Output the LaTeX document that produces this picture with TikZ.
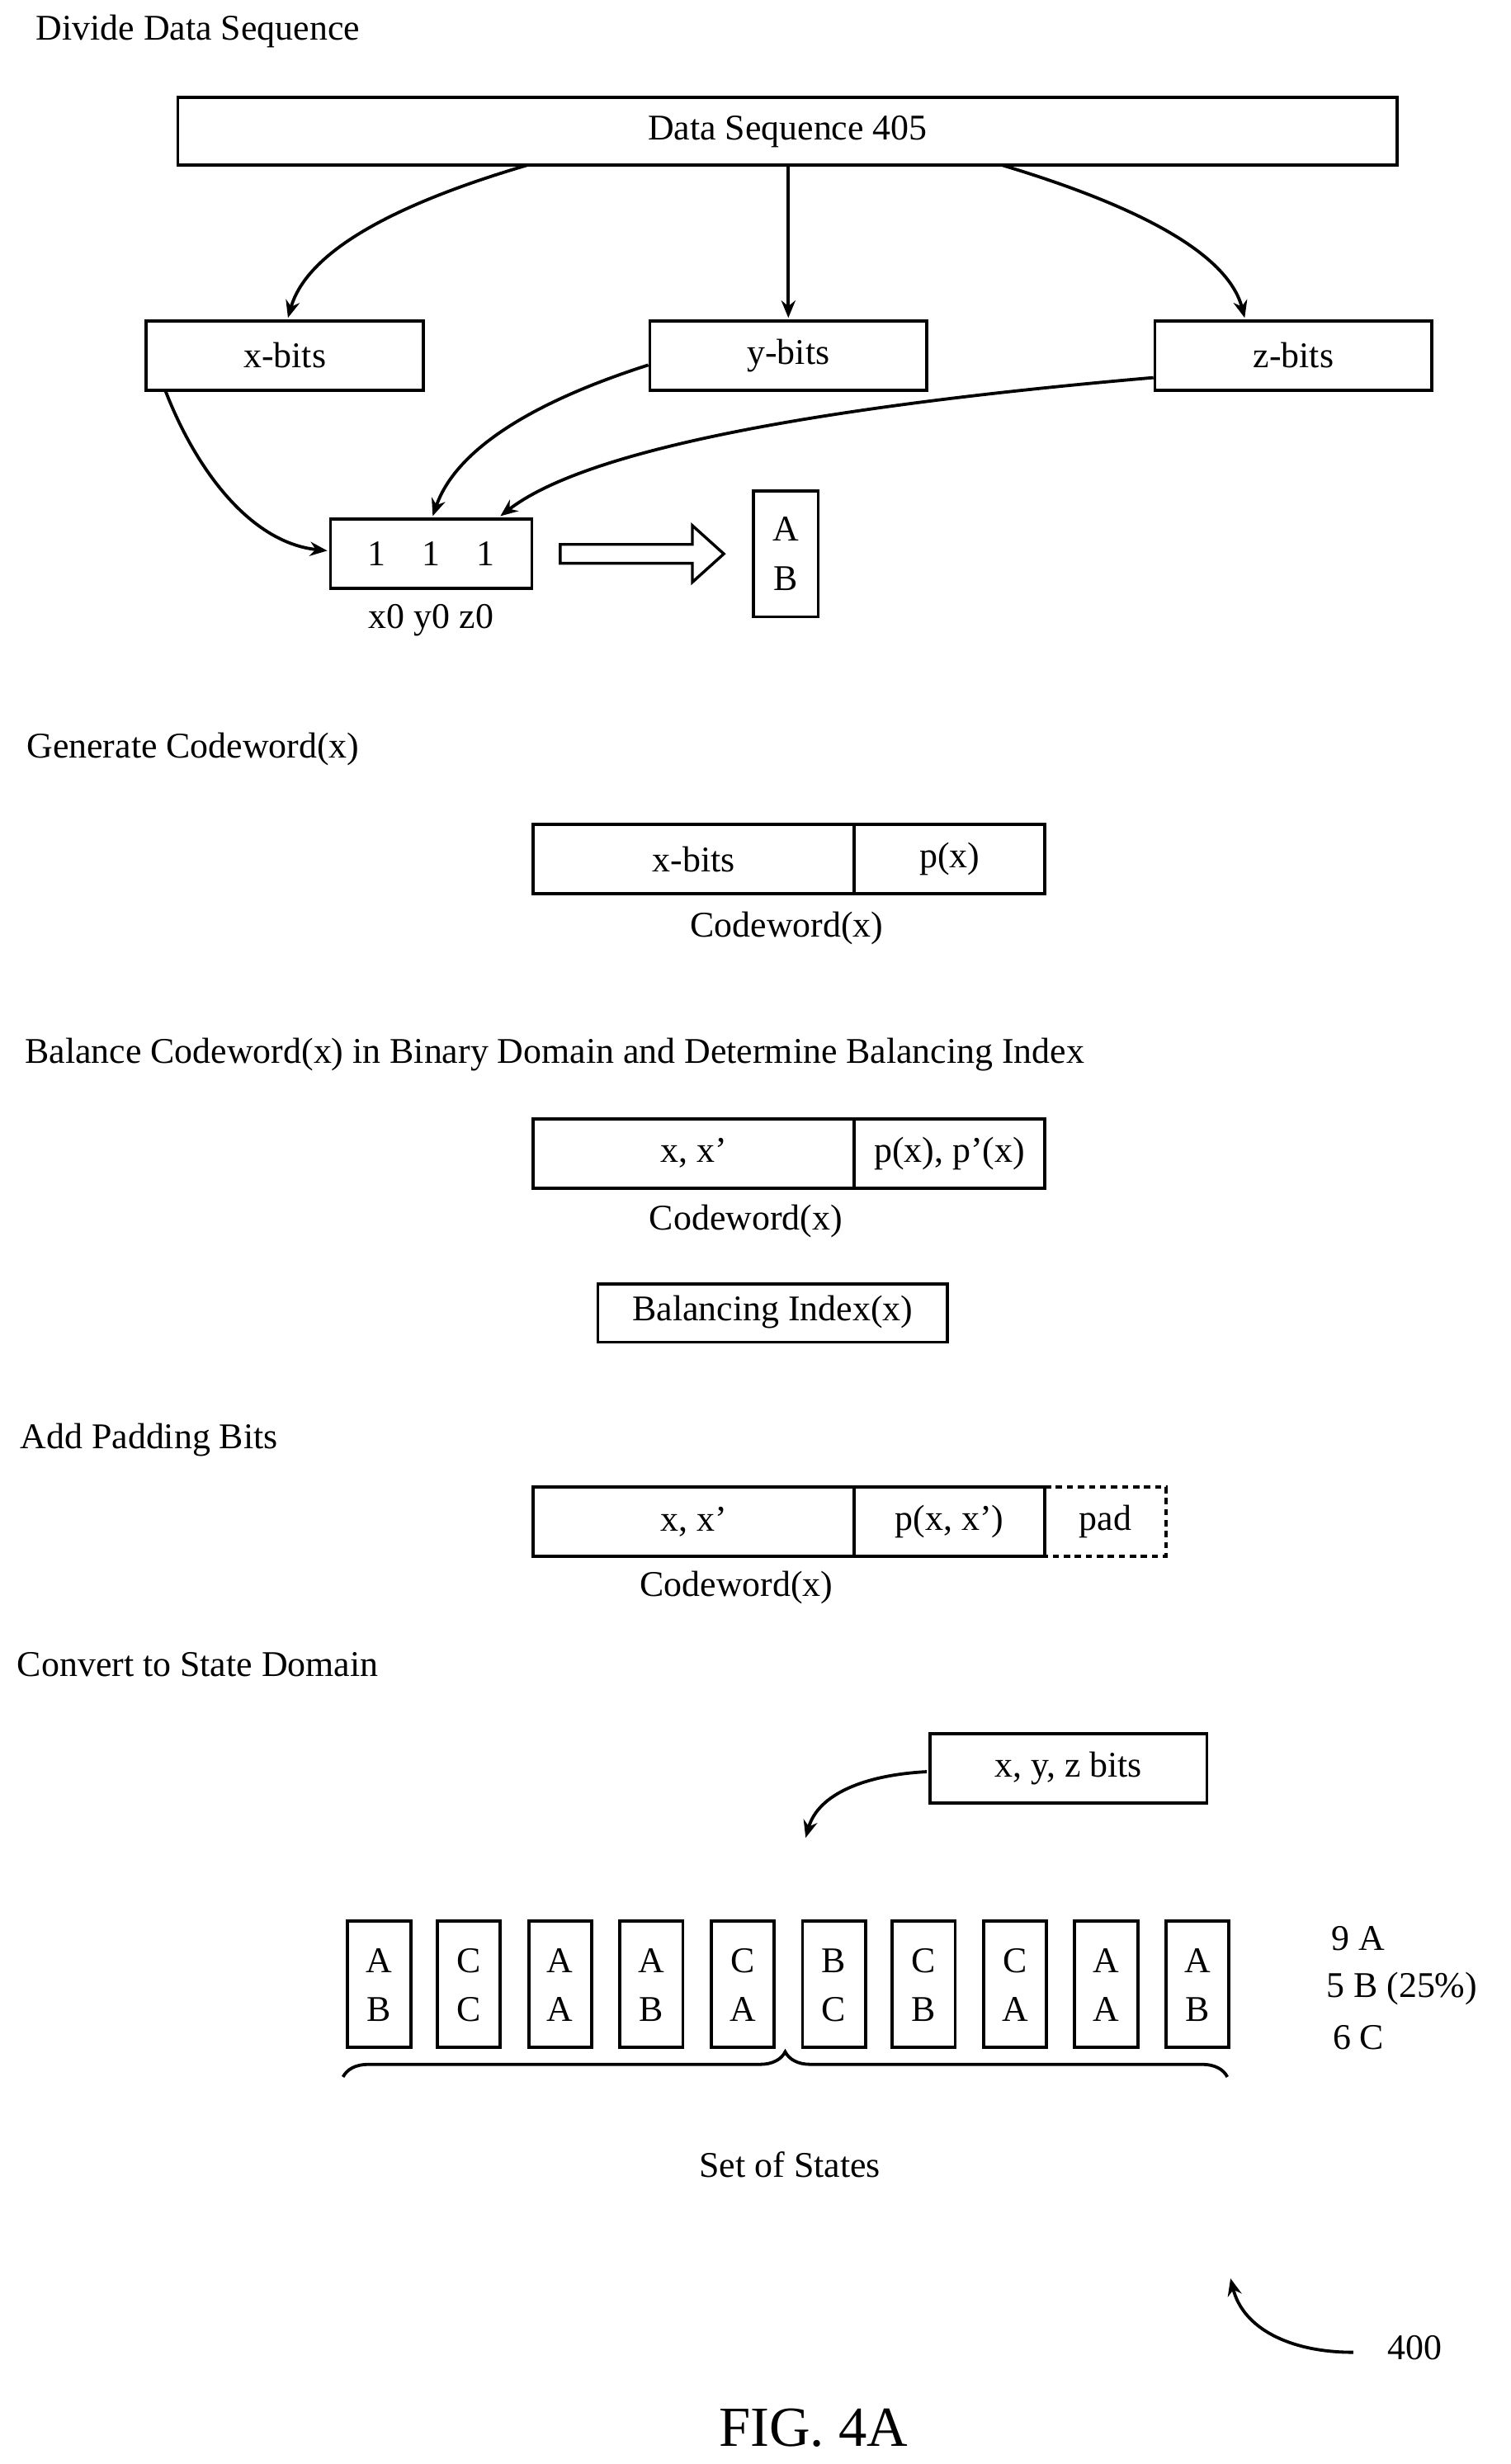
\documentclass[tikz,border=0pt]{standalone}
\usepackage{fontspec}
\setmainfont{Liberation Serif}
\usetikzlibrary{decorations.pathreplacing,arrows.meta}
\begin{document}
\begin{tikzpicture}[x=1pt,y=-1pt,line width=2pt,
  every node/.style={font=\fontsize{23}{27}\selectfont,inner sep=0pt},
  bx/.style={draw,rectangle},
  ttl/.style={anchor=west},
  arr/.style={-{Stealth[length=11pt,width=9pt]}}]
\useasboundingbox (0,0) rectangle (960,1566);
\node[ttl] (t1) at (22,20) {Divide Data Sequence};
\draw (113,62) rectangle (888,105);
\node (ds) at (500.5,83.5) {Data Sequence 405};
\coordinate (dsb1) at (335,105); \coordinate (dsb2) at (501,105); \coordinate (dsb3) at (637,105);
\draw (93,204) rectangle (269,248); \node (xb) at (181,226) {x-bits};
\draw (413,204) rectangle (589,248); \node (yb) at (501,226) {y-bits};
\draw (734,204) rectangle (910,248); \node (zb) at (822,226) {z-bits};
\draw[arr] (dsb1) .. controls (250,130) and (195,160) .. (183,202);
\draw[arr] (dsb2) -- (501,202);
\draw[arr] (dsb3) .. controls (720,130) and (780,160) .. (791,202);
\draw (210,330) rectangle (338,374);
\node (bits) at (274,352) {1\quad 1\quad 1};
\node (lab) at (274,394) {x0 y0 z0};
\draw[arr] (105,248) .. controls (125,300) and (160,345) .. (208,350);
\draw[arr] (412,232) .. controls (340,255) and (290,285) .. (275,328);
\draw[arr] (733,240) .. controls (560,255) and (380,280) .. (318,328);
\draw[line width=1.8pt] (356,346) -- (440,346) -- (440,334) -- (460,352) -- (440,370) -- (440,358) -- (356,358) -- cycle;
\draw (479,312) rectangle (520,392);
\node (ab1) at (499.5,336) {A}; \node (ab2) at (499.5,368) {B};

\node[ttl] (t2) at (16,476) {Generate Codeword(x)};
\draw (339,524) rectangle (543,568) (543,524) rectangle (664,568);
\node at (441,546) {x-bits}; \node at (603.5,546) {p(x)};
\node at (500,590) {Codeword(x)};

\node[ttl] (t3) at (15,670) {Balance Codeword(x) in Binary Domain and Determine Balancing Index};
\draw (339,711) rectangle (543,755) (543,711) rectangle (664,755);
\node at (441,733) {x, x'}; \node at (603.5,733) {p(x), p'(x)};
\node at (474,776) {Codeword(x)};
\draw (380,816) rectangle (602,853);
\node at (491,834) {Balancing Index(x)};

\node[ttl] (t4) at (12,915) {Add Padding Bits};
\draw (339,945) rectangle (543,989) (543,945) rectangle (664,989);
\draw[dash pattern=on 4pt off 3pt] (664,945) -- (741,945) -- (741,989) -- (664,989);
\node at (441,967) {x, x'}; \node at (603.5,967) {p(x, x')}; \node at (702.5,967) {pad};
\node at (468,1009) {Codeword(x)};

\node[ttl] (t5) at (10,1058) {Convert to State Domain};
\draw (591,1102) rectangle (767,1146);
\node (xyz) at (679,1124) {x, y, z bits};
\draw[arr] (589,1126) .. controls (550,1128) and (520,1140) .. (512,1168);
\foreach \x/\a/\b in {221/A/B,278/C/C,336/A/A,394/A/B,452/C/A,510/B/C,567/C/B,625/C/A,683/A/A,741/A/B}{
  \draw (\x,1221) rectangle ++(40,80);
  \node at (\x+20,1246) {\a}; \node at (\x+20,1277) {\b};
}
\node[anchor=west] at (845,1232) {9 A};
\node[anchor=west] at (842,1264) {5 B (25\%)};
\node[anchor=west] at (846,1295) {6 C};
\draw[decorate,decoration={brace,amplitude=16pt,mirror}] (780,1320) -- (218,1320);
\node at (502,1376) {Set of States};
\node (n400) at (899,1492) {400};
\draw[arr] (860,1495) .. controls (820,1495) and (790,1480) .. (782,1448);
\node[font=\fontsize{36}{40}\selectfont] at (517,1543) {FIG. 4A};
\end{tikzpicture}
\end{document}
